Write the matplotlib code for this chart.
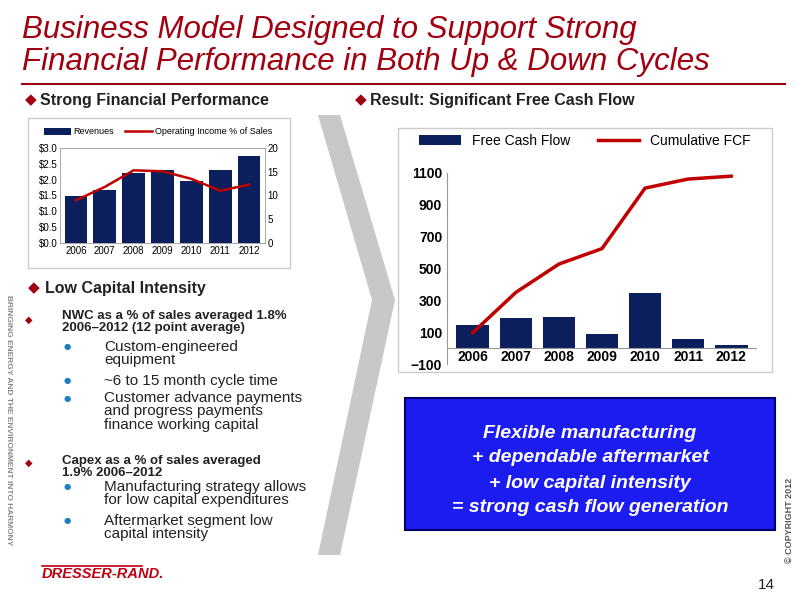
import matplotlib
matplotlib.use("Agg")
import matplotlib.pyplot as plt
from matplotlib.patches import Rectangle, Polygon

plt.rcParams['font.family'] = ['Liberation Sans', 'DejaVu Sans']

years = ["2006", "2007", "2008", "2009", "2010", "2011", "2012"]
revenues = [1.5, 1.68, 2.2, 2.3, 1.97, 2.32, 2.75]
op_income_pct = [9.0, 11.8, 15.3, 15.1, 13.5, 11.0, 12.3]
fcf = [145, 190, 195, 88, 345, 57, 22]
cum_fcf = [97, 350, 528, 625, 1005, 1062, 1080]

W, H = 800, 600
fig = plt.figure(figsize=(8, 6), dpi=100)
fig.patch.set_facecolor("white")
navy = "#0a1f5c"
red = "#c00000"

def fx(x): return x / W
def fy(y): return 1 - y / H
def ax_px(x0, y0, x1, y1):
    return fig.add_axes([fx(x0), fy(y1), (x1 - x0) / W, (y1 - y0) / H])

bg = fig.add_axes([0, 0, 1, 1]); bg.set_xlim(0, W); bg.set_ylim(H, 0); bg.axis("off")

# title
bg.text(22, 30, "Business Model Designed to Support Strong", fontsize=22.5, style="italic", color="#a00010", va="center")
bg.text(22, 62, "Financial Performance in Both Up & Down Cycles", fontsize=22.5, style="italic", color="#a00010", va="center")
bg.plot([22, 785], [84, 84], color="#a00010", lw=1.5)

# chevron
bg.add_patch(Polygon([(318, 115), (340, 115), (395, 300), (340, 555), (318, 555), (372, 300)], closed=True, color="#c8c8c8", lw=0))

# section headings
bg.text(25, 100, "◆", fontsize=11, color="#a00010", va="center", family="DejaVu Sans")
bg.text(40, 100, "Strong Financial Performance", fontsize=11.5, weight="bold", color="#222222", va="center")
bg.text(355, 100, "◆", fontsize=11, color="#a00010", va="center", family="DejaVu Sans")
bg.text(370, 100, "Result: Significant Free Cash Flow", fontsize=11.5, weight="bold", color="#222222", va="center")
bg.text(28, 288, "◆", fontsize=11, color="#a00010", va="center", family="DejaVu Sans")
bg.text(45, 288, "Low Capital Intensity", fontsize=11.5, weight="bold", color="#222222", va="center")

# bullets
tf = dict(color="#222222", va="top")
bg.text(25, 320, "◆", fontsize=7, color="#a00010", va="center", family="DejaVu Sans")
bg.text(62, 310, "NWC as a % of sales averaged 1.8%\n2006–2012 (12 point average)", fontsize=9.5, weight="bold", linespacing=1.0, **tf)
subs1 = [(340, "Custom-engineered\nequipment"), (374, "~6 to 15 month cycle time"), (391, "Customer advance payments\nand progress payments\nfinance working capital")]
for y, t in subs1:
    bg.text(64, y + 7, "●", fontsize=6, color="#1a7fc0", va="center", family="DejaVu Sans")
    bg.text(104, y, t, fontsize=11, linespacing=0.95, **tf)
bg.text(25, 463, "◆", fontsize=7, color="#a00010", va="center", family="DejaVu Sans")
bg.text(62, 455, "Capex as a % of sales averaged\n1.9% 2006–2012", fontsize=9.5, weight="bold", linespacing=1.0, **tf)
subs2 = [(480, "Manufacturing strategy allows\nfor low capital expenditures"), (514, "Aftermarket segment low\ncapital intensity")]
for y, t in subs2:
    bg.text(64, y + 7, "●", fontsize=6, color="#1a7fc0", va="center", family="DejaVu Sans")
    bg.text(104, y, t, fontsize=11, linespacing=0.95, **tf)

# side texts
bg.text(8, 420, "BRINGING ENERGY AND THE ENVIRONMENT INTO HARMONY", rotation=-90, fontsize=6, weight="bold", color="#888888", ha="center", va="center")
bg.text(790, 520, "© COPYRIGHT 2012", rotation=90, fontsize=6.5, weight="bold", color="#555555", ha="center", va="center")
bg.text(42, 574, "DRESSER-RAND.", fontsize=10.5, weight="bold", style="italic", color="#c00010", va="center")
bg.plot([42, 142], [566, 566], color="#c00010", lw=1.2)
bg.text(775, 585, "14", fontsize=11, color="#222222", ha="right", va="center")

# blue box
bg.add_patch(Rectangle((405, 398), 370, 132, facecolor="#1c1cf0", edgecolor="#000066", lw=1.5))
box_lines = ["Flexible manufacturing", "+ dependable aftermarket", "+ low capital intensity", "= strong cash flow generation"]
for i, t in enumerate(box_lines):
    bg.text(590, 433 + i * 25, t, fontsize=14, weight="bold", style="italic", color="white", ha="center", va="center")

# chart borders
bg.add_patch(Rectangle((28, 118), 262, 150, facecolor="none", edgecolor="#cccccc", lw=1))
bg.add_patch(Rectangle((398, 128), 374, 244, facecolor="none", edgecolor="#cccccc", lw=1))

# left chart
ax1 = ax_px(60, 148, 265, 243)
x = range(len(years))
ax1.bar(x, revenues, width=0.78, color=navy, label="Revenues")
ax1.set_ylim(0, 3.0)
ax1.set_yticks([0, 0.5, 1.0, 1.5, 2.0, 2.5, 3.0])
ax1.set_yticklabels(["$0.0", "$0.5", "$1.0", "$1.5", "$2.0", "$2.5", "$3.0"], fontsize=7)
ax1.set_xticks(list(x)); ax1.set_xticklabels(years, fontsize=7)
ax1.set_xlim(-0.55, 6.55)
ax1.tick_params(length=0, pad=2)
for s in ax1.spines.values(): s.set_color("#999999"); s.set_linewidth(0.6)
ax1b = ax1.twinx()
ax1b.plot(x, op_income_pct, color=red, lw=1.8, label="Operating Income % of Sales")
ax1b.set_ylim(0, 20); ax1b.set_yticks([0, 5, 10, 15, 20])
ax1b.tick_params(labelsize=7, length=0, pad=2)
for s in ax1b.spines.values(): s.set_visible(False)
h1, l1 = ax1.get_legend_handles_labels(); h2, l2 = ax1b.get_legend_handles_labels()
fig.legend(h1 + h2, l1 + l2, loc="center", bbox_to_anchor=(fx(158), fy(132)), ncol=2, frameon=False, fontsize=6.5, handlelength=3, columnspacing=1.2, handletextpad=0.3)

# right chart
ax2 = ax_px(447, 173, 757, 364)
ax2.bar(x, fcf, width=0.76, color=navy, label="Free Cash Flow")
ax2.plot(x, cum_fcf, color=red, lw=2.5, label="Cumulative FCF")
ax2.set_ylim(-100, 1100); ax2.set_yticks(range(-100, 1101, 200))
ax2.set_xlim(-0.6, 6.6)
ax2.set_xticks(list(x)); ax2.set_xticklabels(years, fontsize=10, weight="bold")
ax2.tick_params(axis="y", labelsize=10, length=0)
for lab in ax2.get_yticklabels(): lab.set_weight("bold")
ax2.tick_params(axis="x", length=0, pad=-10)
for s in ["top", "right", "bottom"]: ax2.spines[s].set_visible(False)
ax2.spines["left"].set_color("#999999")
ax2.axhline(0, color="#999999", lw=0.8)
h, l = ax2.get_legend_handles_labels()
ax2.legend(h[::-1], l[::-1], loc="center", bbox_to_anchor=((585 - 447) / 310, 1.17), ncol=2, frameon=False, fontsize=10, handlelength=3, columnspacing=2)

fig.savefig("out.png", dpi=100)
